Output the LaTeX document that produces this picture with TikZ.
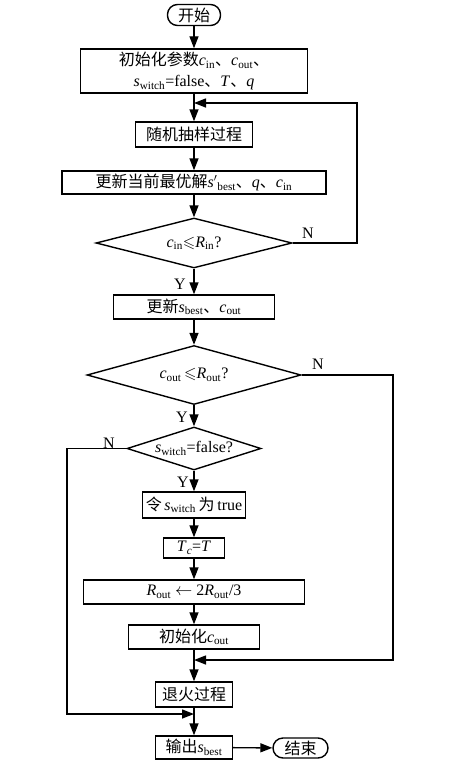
\documentclass[tikz,border=0pt]{standalone}
\usepackage{fontspec}
\usepackage{amssymb}
\setmainfont{Liberation Serif}
\newfontfamily\cjk{Noto Sans CJK SC}
\usetikzlibrary{shapes.geometric,arrows.meta}
\newcommand{\zh}[1]{{\cjk #1}}
\newcommand{\vs}[2]{\textit{#1}\textsubscript{#2}}
\begin{document}
\begin{tikzpicture}[x=1pt,y=-1pt,
  every node/.style={font=\fontsize{16}{21}\selectfont},
  box/.style={draw,line width=1.4pt,inner sep=0pt,align=center},
  term/.style={draw,line width=1.4pt,inner sep=0pt,rounded corners=10pt},
  dia/.style={draw,line width=1.4pt,shape=diamond,inner sep=0pt},
  lbl/.style={inner sep=0pt},
  arr/.style={line width=1.4pt,-{Triangle[length=12pt,width=9pt]}},
  ln/.style={line width=1.4pt}]
\useasboundingbox (0,0) rectangle (455,768);
\node[term,minimum width=53pt,minimum height=21pt] (start) at (194,15) {\zh{开始}};
\node[box,minimum width=227pt,minimum height=44pt] (init) at (194,71)
  {\zh{初始化参数}\vs{c}{in}\zh{、}\vs{c}{out}\zh{、}\\\vs{s}{witch}=false\zh{、}\textit{T}\zh{、}\textit{q}};
\node[box,minimum width=117pt,minimum height=25pt] (rand) at (194,134.5) {\zh{随机抽样过程}};
\node[box,minimum width=264pt,minimum height=23pt] (upd) at (194,182.5)
  {\zh{更新当前最优解}\textit{s}$'$\textsubscript{best}\zh{、}\textit{q}\zh{、}\vs{c}{in}};
\node[dia,minimum width=196pt,minimum height=50pt,aspect=3.92] (d1) at (194,243)
  {\vs{c}{in}$\leqslant$\vs{R}{in}?};
\node[box,minimum width=161pt,minimum height=24pt] (upd2) at (194,307)
  {\zh{更新}\vs{s}{best}\zh{、}\vs{c}{out}};
\node[dia,minimum width=214pt,minimum height=59pt,aspect=3.63] (d2) at (194,375)
  {\vs{c}{out}\,$\leqslant$\vs{R}{out}?};
\node[dia,minimum width=134pt,minimum height=43pt,aspect=3.1] (d3) at (194,448.5)
  {\vs{s}{witch}=false?};
\node[box,minimum width=103pt,minimum height=26pt] (ling) at (194,505)
  {\zh{令}\,\vs{s}{witch}\,\zh{为}\,true};
\node[box,minimum width=61pt,minimum height=20pt] (tc) at (194,548)
  {\textit{T}\textsubscript{\textit{c}}=\textit{T}};
\node[box,minimum width=221pt,minimum height=24pt] (rout) at (194,592)
  {\vs{R}{out} $\leftarrow$ 2\vs{R}{out}/3};
\node[box,minimum width=131pt,minimum height=24pt] (initc) at (194,637)
  {\zh{初始化}\vs{c}{out}};
\node[box,minimum width=77pt,minimum height=25pt] (anneal) at (194,694.5) {\zh{退火过程}};
\node[box,minimum width=77pt,minimum height=23pt] (out) at (194,747.5)
  {\zh{输出}\vs{s}{best}};
\node[term,minimum width=55pt,minimum height=20pt] (end) at (300.5,748) {\zh{结束}};
\coordinate (j1) at (194,103);
\coordinate (j2) at (194,660);
\coordinate (j3) at (194,714);
\coordinate (r1) at (357,243);
\coordinate (r2) at (393,375);
\coordinate (l3) at (67,448.5);
\draw[arr] (start) -- (init);
\draw[arr] (init) -- (rand);
\draw[arr] (rand) -- (upd);
\draw[arr] (upd) -- (d1);
\draw[arr] (d1) -- (upd2);
\draw[arr] (d1.east) -- (r1) |- (j1);
\draw[arr] (upd2) -- (d2);
\draw[arr] (d2) -- (d3);
\draw[arr] (d2.east) -- (r2) |- (j2);
\draw[arr] (d3) -- (ling);
\draw[arr] (d3.west) -- (l3) |- (j3);
\draw[arr] (ling) -- (tc);
\draw[arr] (tc) -- (rout);
\draw[arr] (rout) -- (initc);
\draw[arr] (initc) -- (anneal);
\draw[arr] (anneal) -- (out);
\draw[arr] (out) -- (end);
\node[lbl] (y1) at (180,284) {Y};
\node[lbl] (y2) at (182,417) {Y};
\node[lbl] (y3) at (183,482) {Y};
\node[lbl] (n1) at (308,233) {N};
\node[lbl] (n2) at (318,364) {N};
\node[lbl] (n3) at (109,443) {N};
\end{tikzpicture}
\end{document}
